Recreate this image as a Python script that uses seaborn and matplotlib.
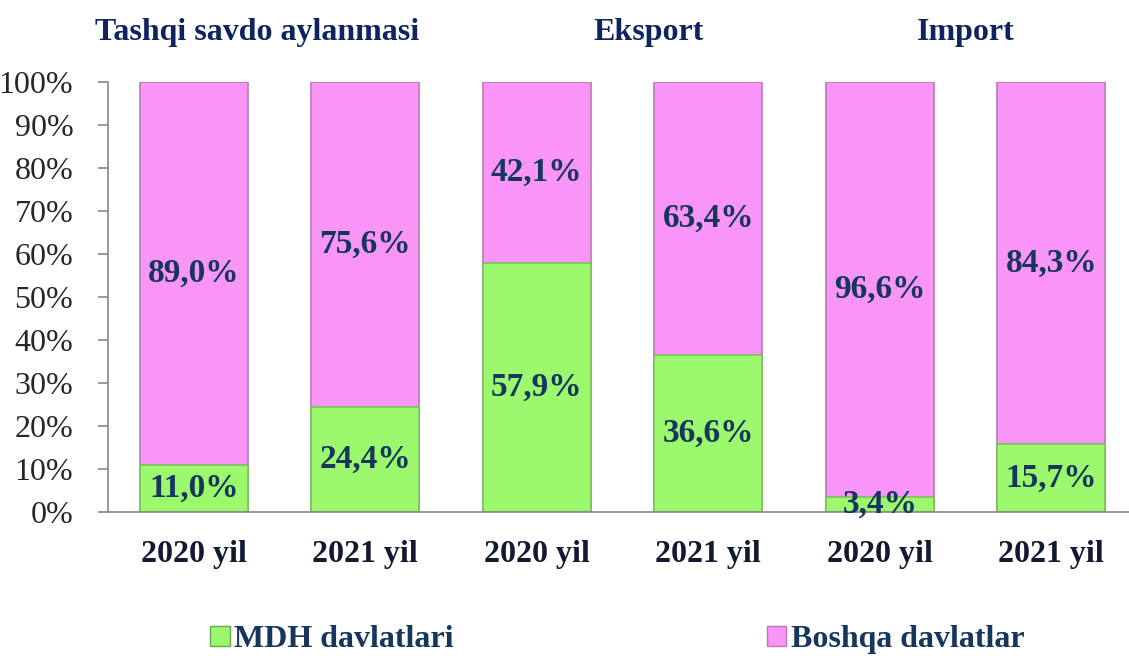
import pandas as pd
import matplotlib.pyplot as plt
import seaborn as sns
from matplotlib.patches import Patch

# chart values
groups = ["Tashqi savdo aylanmasi", "Eksport", "Import"]
years = ["2020 yil", "2021 yil", "2020 yil", "2021 yil", "2020 yil", "2021 yil"]
mdh = [11.0, 24.4, 57.9, 36.6, 3.4, 15.7]
boshqa = [89.0, 75.6, 42.1, 63.4, 96.6, 84.3]

green = "#9cf86c"
pink = "#f995f6"
navy = "#17365d"
title_navy = "#0e2460"

sns.set_style("white")
plt.rcParams["font.family"] = ["Liberation Serif", "DejaVu Serif"]

df = pd.DataFrame({"pos": [str(i) for i in range(6)], "mdh": mdh,
                   "total": [a + b for a, b in zip(mdh, boshqa)]})

fig = plt.figure(figsize=(11.29, 6.61), dpi=100)
ax = fig.add_axes([0.0957, 0.2254, 0.9114, 0.6506])

sns.barplot(data=df, x="pos", y="total", color=pink, width=0.63,
            edgecolor="#b77ab5", linewidth=1.2, saturation=1, ax=ax)
sns.barplot(data=df, x="pos", y="mdh", color=green, width=0.63,
            edgecolor="#7cc15a", linewidth=1.2, saturation=1, ax=ax)

for i in range(6):
    ax.text(i, mdh[i] / 2, f"{mdh[i]:.1f}%".replace(".", ","), ha="center", va="center",
            fontsize=24, fontweight="bold", color=navy)
    ax.text(i, mdh[i] + boshqa[i] / 2, f"{boshqa[i]:.1f}%".replace(".", ","), ha="center",
            va="center", fontsize=24, fontweight="bold", color=navy)

ax.set_xlim(-0.5, 5.5)
ax.set_ylim(0, 100)
ax.set_yticks(range(0, 101, 10))
ax.set_yticklabels([f"{v}%" for v in range(0, 101, 10)], fontsize=23)
ax.set_xticks(range(6))
ax.set_xticklabels(years, fontsize=23, fontweight="bold", color="#111a33")
ax.set_xticks([i - 0.5 for i in range(7)], minor=True)
ax.tick_params(axis="x", which="major", length=0, pad=20)
ax.tick_params(axis="x", which="minor", length=7, color="#888888", width=1.2)
ax.tick_params(axis="y", length=7, color="#888888", width=1.2, pad=18, direction="out", left=True)
ax.set_xlabel("")
ax.set_ylabel("")
for s in ["top", "right"]:
    ax.spines[s].set_visible(False)
for s in ["left", "bottom"]:
    ax.spines[s].set_color("#888888")
    ax.spines[s].set_linewidth(1.2)

# group titles
for x, g in zip([0.37, 2.65, 4.5], groups):
    ax.text(x, 1.115, g, transform=ax.get_xaxis_transform(), ha="center", va="center",
            fontsize=23, fontweight="bold", color=title_navy)

handles = [Patch(facecolor=green, edgecolor="#6aa84f"), Patch(facecolor=pink, edgecolor="#b77ab5")]
leg = fig.legend(handles, ["MDH davlatlari", "Boshqa davlatlar"], loc="lower center",
                 bbox_to_anchor=(0.547, -0.033), ncol=2, frameon=False, columnspacing=9.8,
                 handlelength=0.6, handleheight=0.6, handletextpad=0.15,
                 prop={"size": 23, "weight": "bold"})
for t in leg.get_texts():
    t.set_color(navy)

fig.savefig("out.png", dpi=100)
